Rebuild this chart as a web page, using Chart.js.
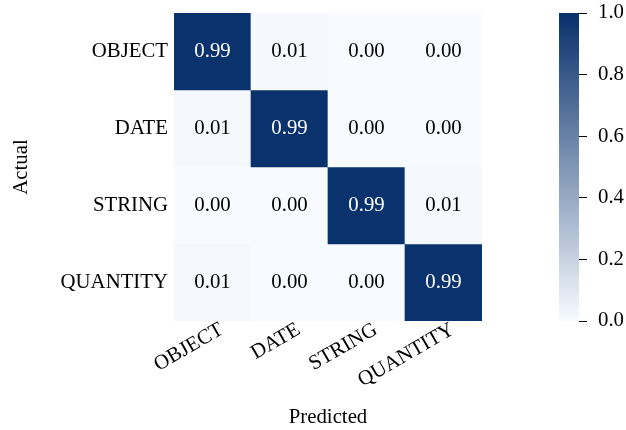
<!DOCTYPE html>
<html>
<head>
<meta charset="utf-8">
<script src="https://cdn.jsdelivr.net/npm/chart.js@4.4.1/dist/chart.umd.min.js"></script>
<style>
  html, body { margin: 0; padding: 0; background: #ffffff; }
  #wrap { position: relative; width: 626px; height: 430px; overflow: hidden; }
  #main { position: absolute; left: 0; top: 0; }
  #cbar { position: absolute; left: 540px; top: 0; }
</style>
</head>
<body>
<div id="wrap">
  <canvas id="main" width="626" height="430" style="width:626px;height:430px"></canvas>
  <canvas id="cbar" width="86" height="430" style="width:86px;height:430px"></canvas>
</div>
<script>
// Class names, used for both axes (rows = actual, columns = predicted)
const classes = ['OBJECT', 'DATE', 'STRING', 'QUANTITY'];

// Normalised confusion matrix, one row per actual class
const rowObject   = [0.99, 0.01, 0.00, 0.00];
const rowDate     = [0.01, 0.99, 0.00, 0.00];
const rowString   = [0.00, 0.00, 0.99, 0.01];
const rowQuantity = [0.01, 0.00, 0.00, 0.99];
const matrix = [rowObject, rowDate, rowString, rowQuantity];

// Colour bar tick values
const colorbarTicks = [0.0, 0.2, 0.4, 0.6, 0.8, 1.0];

const FONT_FAMILY = '"Liberation Serif", "Times New Roman", serif';
const FONT_SIZE = 20.8;

Chart.defaults.font.family = FONT_FAMILY;
Chart.defaults.font.size = FONT_SIZE;
Chart.defaults.color = '#000000';

// Light-to-dark blue ramp
const LOW = [247, 251, 255];
const HIGH = [8, 48, 107];
function cmap(v) {
  const t = Math.max(0, Math.min(1, v));
  const c = LOW.map((lo, i) => Math.round(lo + (HIGH[i] - lo) * t));
  return `rgb(${c[0]},${c[1]},${c[2]})`;
}

// Keep the plot area exactly where the layout padding puts it
function noEdgePadding(s) {
  s.paddingTop = 0;
  s.paddingBottom = 0;
}

// Writes each cell's value in the middle of its bar
const cellText = {
  id: 'cellText',
  afterDatasetsDraw(chart) {
    const ctx = chart.ctx;
    ctx.save();
    ctx.font = `${FONT_SIZE}px ${FONT_FAMILY}`;
    ctx.textAlign = 'center';
    ctx.textBaseline = 'middle';
    chart.data.datasets.forEach((ds, r) => {
      chart.getDatasetMeta(r).data.forEach((bar, c) => {
        const v = ds.values[c];
        const p = bar.getProps(['x', 'y', 'base'], true);
        ctx.fillStyle = v > 0.5 ? '#ffffff' : '#000000';
        ctx.fillText(v.toFixed(2), p.x, (p.y + p.base) / 2 + 0.5);
      });
    });
    ctx.restore();
  }
};

// Rotated column labels under the grid
const xLabels = {
  id: 'xLabels',
  afterDraw(chart) {
    const ctx = chart.ctx;
    const xs = chart.scales.x;
    const y0 = chart.chartArea.bottom + 12;
    ctx.save();
    ctx.font = `${FONT_SIZE}px ${FONT_FAMILY}`;
    ctx.fillStyle = '#000000';
    ctx.textAlign = 'right';
    ctx.textBaseline = 'alphabetic';
    classes.forEach((t, i) => {
      const px = xs.getPixelForTick(i);
      ctx.save();
      ctx.translate(px + 12, y0);
      ctx.rotate(-Math.PI / 6);
      ctx.fillText(t, 0, 0);
      ctx.restore();
    });
    ctx.restore();
  }
};

new Chart(document.getElementById('main'), {
  type: 'bar',
  data: {
    labels: classes,
    datasets: matrix.map((row, r) => ({
      label: classes[r],
      data: row.map(() => [r, r + 1]),
      values: row,
      backgroundColor: row.map(cmap),
      borderWidth: 0,
      borderSkipped: false,
      barPercentage: 1,
      categoryPercentage: 1,
      grouped: false
    }))
  },
  options: {
    responsive: false,
    animation: false,
    layout: { padding: { left: 0, right: 144, top: 13, bottom: 0 } },
    plugins: { legend: { display: false }, tooltip: { enabled: false } },
    scales: {
      x: {
        type: 'category',
        offset: true,
        grid: { display: false, drawTicks: false },
        border: { display: false },
        ticks: { display: false },
        title: { display: true, text: 'Predicted', padding: { top: 0, bottom: 0 } },
        afterFit(s) { s.height = 109; }
      },
      y: {
        type: 'linear',
        min: 0,
        max: 4,
        reverse: true,
        grid: { display: false, drawTicks: false },
        border: { display: false },
        afterBuildTicks(s) { s.ticks = classes.map((_, i) => ({ value: i + 0.5 })); },
        ticks: { padding: 6, autoSkip: false, callback: (v) => classes[Math.floor(v)] },
        title: { display: true, text: 'Actual', padding: { top: 9.5, bottom: 0 } },
        afterFit(s) { s.width = 174; noEdgePadding(s); }
      }
    }
  },
  plugins: [cellText, xLabels]
});

// Colour bar: one bar spanning 0..1 filled with the same ramp
new Chart(document.getElementById('cbar'), {
  type: 'bar',
  data: {
    labels: [''],
    datasets: [{
      data: [[0, 1]],
      backgroundColor(ctx) {
        const a = ctx.chart.chartArea;
        if (!a) return cmap(0.5);
        const g = ctx.chart.ctx.createLinearGradient(0, a.bottom, 0, a.top);
        for (let i = 0; i <= 10; i++) g.addColorStop(i / 10, cmap(i / 10));
        return g;
      },
      borderWidth: 0,
      borderSkipped: false,
      barPercentage: 1,
      categoryPercentage: 1
    }]
  },
  options: {
    responsive: false,
    animation: false,
    layout: { padding: { left: 19, right: 0, top: 13, bottom: 109 } },
    plugins: { legend: { display: false }, tooltip: { enabled: false } },
    scales: {
      x: { display: false },
      y: {
        position: 'right',
        min: 0,
        max: 1,
        grid: { display: true, drawOnChartArea: false, drawTicks: true, tickLength: 8, color: '#000000', lineWidth: 1 },
        border: { display: false },
        afterBuildTicks(s) { s.ticks = colorbarTicks.map(v => ({ value: v })); },
        ticks: { padding: 11, callback: (v) => v.toFixed(1) },
        afterFit(s) { s.width = 47; noEdgePadding(s); }
      }
    }
  }
});
</script>
</body>
</html>
